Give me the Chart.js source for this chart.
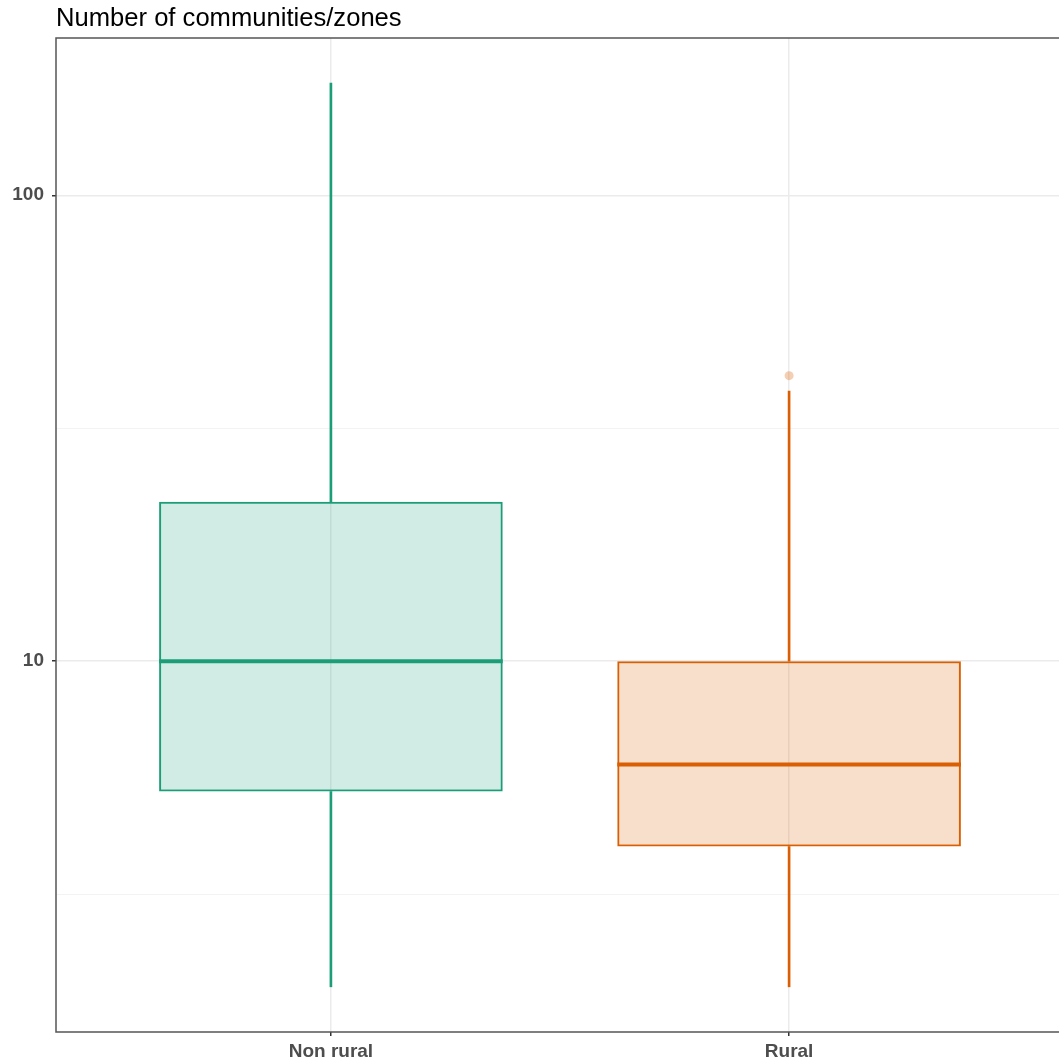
<!DOCTYPE html>
<html>
<head>
<meta charset="utf-8">
<script src="https://cdn.jsdelivr.net/npm/chart.js@4"></script>
<style>
  html, body { margin: 0; padding: 0; overflow: hidden; background: #fff; }
  #wrap { width: 1070px; height: 1063px; }
</style>
</head>
<body>
<div id="wrap"><canvas id="myChart"></canvas></div>
<script>
// box plot statistics per group
const categories = ['Non rural', 'Rural'];
const whiskerLow = [2, 2];
const q1 = [5.25, 4];
const medians = [10, 6];
const q3 = [22, 10];
const whiskerHigh = [174, 38];
const outliers = [[], [41]];

// y axis breaks (log10): labelled majors and unlabelled minors
const yMajorTicks = [10, 100];
const yMinorTicks = [3.1623, 31.623];

const lineColors = ['#1B9E77', '#D95F02'];
const fillColors = ['rgba(27,158,119,0.2)', 'rgba(217,95,2,0.2)'];
const outlierColors = ['rgba(27,158,119,0.3)', 'rgba(217,95,2,0.3)'];

// y range with 5% expansion in log space
const allValues = whiskerLow.concat(whiskerHigh, ...outliers);
const logLo = Math.log10(Math.min(...allValues));
const logHi = Math.log10(Math.max(...allValues));
const logPad = (logHi - logLo) * 0.05;
const yMin = Math.pow(10, logLo - logPad);
const yMax = Math.pow(10, logHi + logPad);

const xs = categories.map((c, i) => i + 1);

// median lines, panel border and title
const boxExtras = {
  id: 'boxExtras',
  afterDatasetsDraw(chart) {
    const ctx = chart.ctx;
    const y = chart.scales.y;
    const boxes = chart.getDatasetMeta(0).data;
    ctx.save();
    boxes.forEach((bar, i) => {
      const py = y.getPixelForValue(medians[i]);
      ctx.strokeStyle = lineColors[i];
      ctx.lineWidth = 4;
      ctx.beginPath();
      ctx.moveTo(bar.x - bar.width / 2, py);
      ctx.lineTo(bar.x + bar.width / 2, py);
      ctx.stroke();
    });
    const a = chart.chartArea;
    ctx.strokeStyle = '#555';
    ctx.lineWidth = 1.5;
    ctx.strokeRect(a.left, a.top, a.right - a.left, a.bottom - a.top);
    ctx.restore();
  },
  afterDraw(chart) {
    const ctx = chart.ctx;
    ctx.save();
    ctx.fillStyle = '#000';
    ctx.font = '25.6px "Liberation Sans", Arial, sans-serif';
    ctx.textAlign = 'left';
    ctx.textBaseline = 'alphabetic';
    ctx.fillText('Number of communities/zones', chart.chartArea.left, 26);
    ctx.restore();
  }
};

const tickFont = { family: '"Liberation Sans", Arial, sans-serif', size: 19, weight: 'bold' };

const ctx = document.getElementById('myChart').getContext('2d');
const myChart = new Chart(ctx, {
  type: 'bar',
  data: {
    datasets: [
      {
        // boxes (Q1 to Q3)
        data: xs.map((x, i) => ({ x: x, y: [q1[i], q3[i]] })),
        backgroundColor: fillColors,
        borderColor: lineColors,
        borderWidth: 2,
        borderSkipped: false,
        barPercentage: 0.75,
        categoryPercentage: 1,
        grouped: false
      },
      {
        // lower whiskers
        data: xs.map((x, i) => ({ x: x, y: [whiskerLow[i], q1[i]] })),
        backgroundColor: lineColors,
        barThickness: 2,
        grouped: false
      },
      {
        // upper whiskers
        data: xs.map((x, i) => ({ x: x, y: [q3[i], whiskerHigh[i]] })),
        backgroundColor: lineColors,
        barThickness: 2,
        grouped: false
      },
      {
        type: 'scatter',
        data: outliers.flatMap((vals, i) => vals.map(v => ({ x: xs[i], y: v }))),
        pointRadius: 4.5,
        pointBorderWidth: 0,
        pointBackgroundColor: c => outlierColors[(c.raw ? c.raw.x : 1) - 1]
      }
    ]
  },
  options: {
    responsive: true,
    maintainAspectRatio: false,
    animation: false,
    layout: { padding: { top: 38, right: 6, left: 0, bottom: 0 } },
    plugins: {
      legend: { display: false },
      tooltip: { enabled: false },
      title: { display: false }
    },
    scales: {
      x: {
        type: 'linear',
        min: 0.4,
        max: categories.length + 0.6,
        bounds: 'data',
        offset: false,
        afterBuildTicks: s => { s.ticks = xs.map(v => ({ value: v })); },
        afterFit: s => { s.height = 31; },
        grid: {
          offset: false,
          color: '#EBEBEB',
          lineWidth: 1.5,
          drawTicks: true,
          tickLength: 4,
          tickColor: '#333',
          tickWidth: 1.5
        },
        border: { display: false },
        ticks: {
          font: tickFont,
          color: '#4D4D4D',
          padding: 4,
          maxRotation: 0,
          autoSkip: false,
          callback: v => categories[v - 1] || ''
        }
      },
      y: {
        type: 'logarithmic',
        min: yMin,
        max: yMax,
        bounds: 'data',
        afterBuildTicks: s => {
          s.ticks = yMinorTicks.concat(yMajorTicks).sort((a, b) => a - b).map(v => ({ value: v }));
        },
        afterFit: s => { s.width = 56; },
        grid: {
          color: c => yMajorTicks.includes(c.tick.value) ? '#EBEBEB' : '#F3F3F3',
          lineWidth: c => yMajorTicks.includes(c.tick.value) ? 1.5 : 1,
          drawTicks: true,
          tickLength: 4,
          tickColor: c => yMajorTicks.includes(c.tick.value) ? '#333' : 'rgba(0,0,0,0)',
          tickWidth: 1.5
        },
        border: { display: false },
        ticks: {
          font: tickFont,
          color: '#4D4D4D',
          padding: 8,
          autoSkip: false,
          callback: v => yMajorTicks.includes(v) ? String(v) : ''
        }
      }
    }
  },
  plugins: [boxExtras]
});
</script>
</body>
</html>
